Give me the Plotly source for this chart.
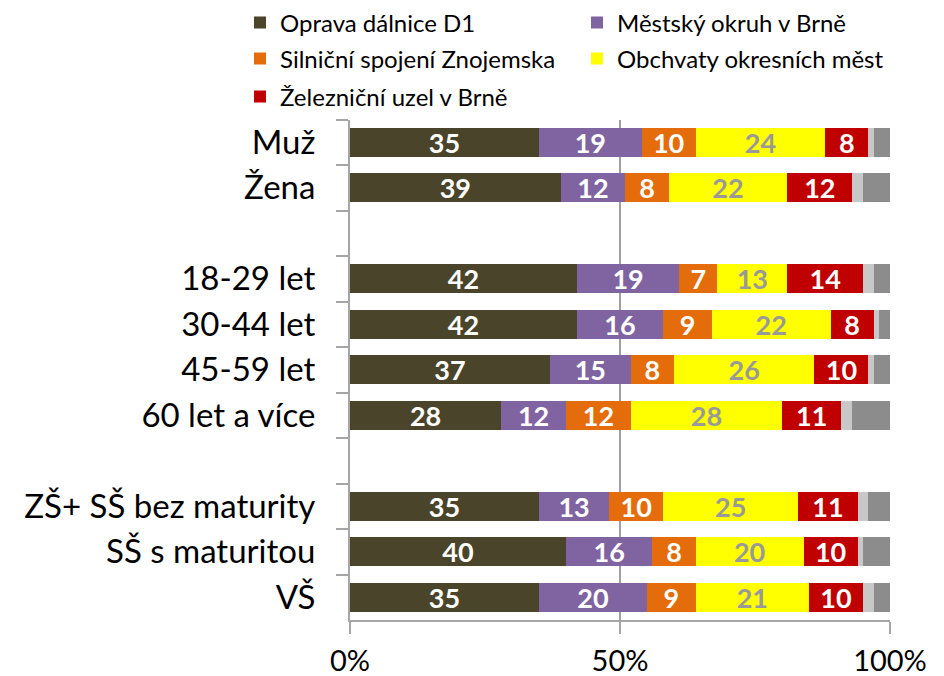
import plotly.graph_objects as go

categories = ["Muž", "Žena", " ", "18-29 let", "30-44 let", "45-59 let", "60 let a více",
              "  ", "ZŠ+ SŠ bez maturity", "SŠ s maturitou", "VŠ"]
rows = ["Muž", "Žena", "18-29 let", "30-44 let", "45-59 let", "60 let a více",
        "ZŠ+ SŠ bez maturity", "SŠ s maturitou", "VŠ"]

oprava_d1 = [35, 39, 42, 42, 37, 28, 35, 40, 35]
mestsky_okruh = [19, 12, 19, 16, 15, 12, 13, 16, 20]
silnicni_znojemska = [10, 8, 7, 9, 8, 12, 10, 8, 9]
obchvaty = [24, 22, 13, 22, 26, 28, 25, 20, 21]
zeleznicni_uzel = [8, 12, 14, 8, 10, 11, 11, 10, 10]
jine = [1, 2, 2, 1, 1, 2, 2, 1, 2]
nevi = [3, 5, 3, 2, 3, 7, 4, 5, 3]

series = [
    ("Oprava dálnice D1", oprava_d1, "#4A452A", "white", "legend", True),
    ("Městský okruh v Brně", mestsky_okruh, "#8064A2", "white", "legend2", True),
    ("Silniční spojení Znojemska", silnicni_znojemska, "#E46C0A", "white", "legend3", True),
    ("Obchvaty okresních měst", obchvaty, "#FFFF00", "#999999", "legend4", True),
    ("Železniční uzel v Brně", zeleznicni_uzel, "#C00000", "white", "legend5", True),
    ("Jiné", jine, "#C8C8C8", "white", "legend", False),
    ("Neví", nevi, "#8C8C8C", "white", "legend", False),
]

fig = go.Figure()
for name, vals, color, tcolor, leg, show in series:
    fig.add_trace(go.Bar(
        name=name, x=vals, y=rows, orientation="h",
        marker=dict(color=color, line=dict(width=0)),
        text=[str(v) for v in vals] if show else None,
        texttemplate="%{text}" if show else None,
        textposition="inside" if show else "none",
        insidetextanchor="middle",
        textangle=0,
        textfont=dict(family="Lato", size=27, color=tcolor, weight="bold"),
        showlegend=show, legend=leg, hoverinfo="skip",
    ))

# page is offset by the default 8px body margin
W, H = 936, 668
legend_common = dict(orientation="h", xref="container", yref="container",
                     xanchor="left", yanchor="middle",
                     font=dict(family="Lato", size=24, color="black"),
                     bgcolor="rgba(0,0,0,0)", itemclick=False)

col1, col2 = 240 - 8, 577 - 8
row1, row2, row3 = 23 - 8, 59 - 8, 97 - 8
fig.update_layout(
    width=W, height=H,
    margin=dict(l=342, r=54, t=111, b=56),
    paper_bgcolor="white", plot_bgcolor="white",
    barmode="stack", bargap=0.355,
    uniformtext=dict(minsize=27, mode="show"),
    legend=dict(x=col1/W, y=1-row1/H, **legend_common),
    legend2=dict(x=col2/W, y=1-row1/H, **legend_common),
    legend3=dict(x=col1/W, y=1-row2/H, **legend_common),
    legend4=dict(x=col2/W, y=1-row2/H, **legend_common),
    legend5=dict(x=col1/W, y=1-row3/H, **legend_common),
    xaxis=dict(range=[0, 100], tickvals=[0, 50, 100], ticktext=["0%", "50%", "100%"],
               automargin=False,
               showgrid=True, gridcolor="#A0A0A0", gridwidth=1.5,
               showline=True, linecolor="#A6A6A6", linewidth=2,
               ticks="outside", ticklen=12, tickcolor="#A6A6A6", tickwidth=2,
               ticklabelstandoff=2, zeroline=False,
               tickfont=dict(family="Lato", size=29, color="black")),
    yaxis=dict(type="category", categoryorder="array", categoryarray=categories,
               autorange="reversed", automargin=False,
               showline=True, linecolor="#A6A6A6", linewidth=2,
               ticks="outside", ticklen=12, tickcolor="#A6A6A6", tickwidth=2,
               tickson="boundaries", showgrid=False, ticklabelstandoff=26,
               tickfont=dict(family="Lato", size=33, color="black")),
)

fig.write_html("out.html")
